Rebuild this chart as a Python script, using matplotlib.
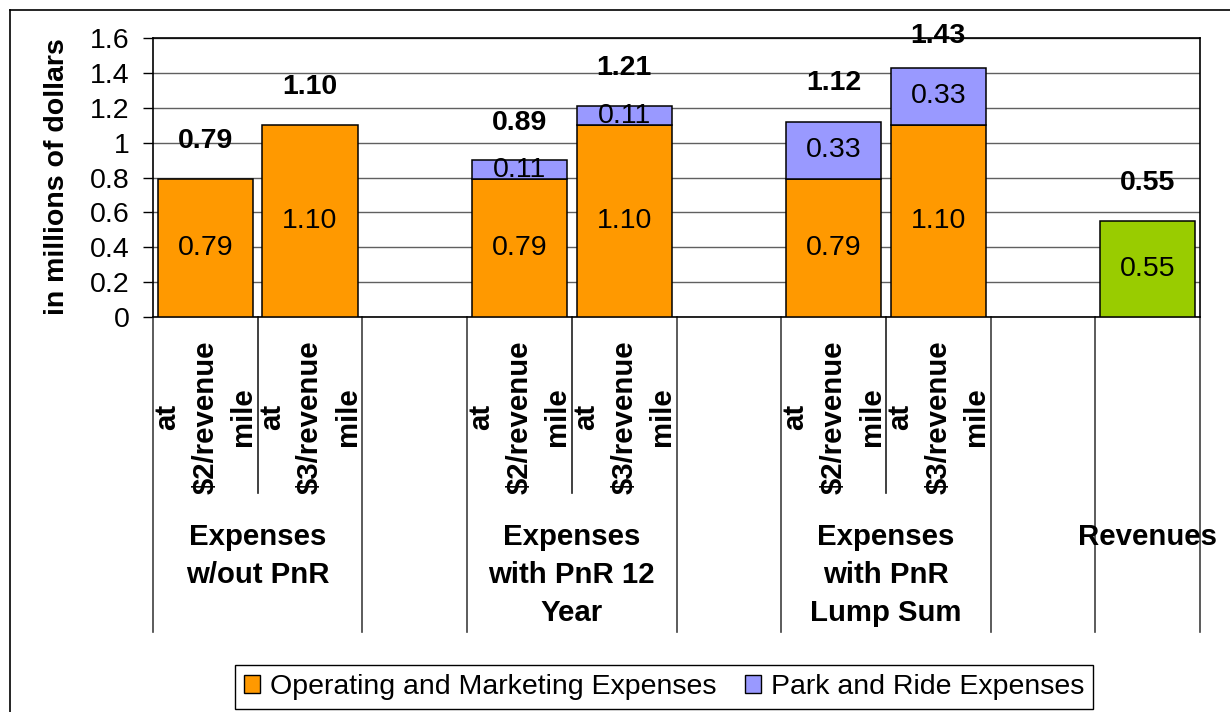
import matplotlib
matplotlib.use('Agg')
import matplotlib.pyplot as plt
from matplotlib.patches import Patch
from matplotlib.lines import Line2D
from matplotlib.transforms import offset_copy

plt.rcParams['font.family'] = ['Liberation Sans', 'DejaVu Sans']

# data
groups = ['Expenses\nw/out PnR', 'Expenses\nwith PnR 12\nYear',
          'Expenses\nwith PnR\nLump Sum', 'Revenues']
sub_labels = ['at\n$2/revenue\nmile', 'at\n$3/revenue\nmile']
operating = [0.79, 1.10, 0.79, 1.10, 0.79, 1.10]
park_ride = [0.0, 0.0, 0.11, 0.11, 0.33, 0.33]
totals = [0.79, 1.10, 0.89, 1.21, 1.12, 1.43]
revenue = 0.55
yticks = [0, 0.2, 0.4, 0.6, 0.8, 1, 1.2, 1.4, 1.6]
ytick_labels = ['0', '0.2', '0.4', '0.6', '0.8', '1', '1.2', '1.4', '1.6']

ORANGE = '#FF9900'
BLUE = '#9999FF'
GREEN = '#99CC00'
FS = 20.5
CAT_FS = 21.2

W, H = 1230, 712
fig = plt.figure(figsize=(W / 100, H / 100), dpi=100)


def px(x, y):
    return x / W, 1 - y / H


ax = fig.add_axes([153 / W, 1 - 317 / H, (1200 - 153) / W, (317 - 38) / H])

# 10 category slots: $2, $3, gap, $2, $3, gap, $2, $3, gap, revenue
exp_slots = [0, 1, 3, 4, 6, 7]
xs = [s + 0.5 for s in exp_slots]
rev_x = 9.5
bw = 0.91

ax.bar(xs, operating, bw, color=ORANGE, edgecolor='black', lw=1.1, zorder=3)
pr_x = [x for x, p in zip(xs, park_ride) if p > 0]
pr_v = [p for p in park_ride if p > 0]
pr_b = [o for o, p in zip(operating, park_ride) if p > 0]
ax.bar(pr_x, pr_v, bw, bottom=pr_b, color=BLUE, edgecolor='black', lw=1.1, zorder=3)
ax.bar([rev_x], [revenue], bw, color=GREEN, edgecolor='black', lw=1.1, zorder=3)

# value labels
for x, o in zip(xs, operating):
    ax.text(x, o / 2, f'{o:.2f}', ha='center', va='center', fontsize=FS, zorder=4)
for x, p, b in zip(pr_x, pr_v, pr_b):
    ax.text(x, b + p / 2, f'{p:.2f}', ha='center', va='center', fontsize=FS, zorder=4)
ax.text(rev_x, revenue / 2, f'{revenue:.2f}', ha='center', va='center', fontsize=FS, zorder=4)

for x, t in zip(xs + [rev_x], totals + [revenue]):
    ax.text(x, min(t + 0.22, 1.61), f'{t:.2f}', ha='center', va='center',
            fontsize=FS, fontweight='bold', clip_on=False)

ax.set_xlim(0, 10)
ax.set_ylim(0, 1.6)
ax.set_xticks([])
ax.set_yticks(yticks)
ax.set_yticklabels(ytick_labels)
ax.tick_params(axis='y', direction='out', length=7, width=1, labelsize=FS, pad=10)
ax.yaxis.grid(True, color='#606060', lw=1)
ax.set_axisbelow(True)
for sp in ax.spines.values():
    sp.set_color('black')
    sp.set_linewidth(1.2)

# multi-level category axis
trans = ax.get_xaxis_transform()
for x in [0, 2, 3, 5, 6, 8, 9, 10]:
    ax.plot([x, x], [0, -1.129], transform=trans, clip_on=False, color='#404040', lw=1.2)
for x in [1, 4, 7]:
    ax.plot([x, x], [0, -0.631], transform=trans, clip_on=False, color='#202020', lw=1.2)

for i, x in enumerate(xs):
    lines = sub_labels[i % 2].split('\n')
    for k, line in enumerate(lines):
        tr = offset_copy(trans, fig=fig, x=(k - 1) * 38, y=0, units='dots')
        ax.text(x, -0.3584, line, transform=tr, rotation=90, ha='center', va='center',
                fontsize=CAT_FS, fontweight='bold', parse_math=False)

for gx, g in zip([1.0, 4.0, 7.0, 9.5], groups):
    for k, line in enumerate(g.split('\n')):
        tr = offset_copy(trans, fig=fig, x=0, y=-38 * k, units='dots')
        ax.text(gx, -0.7885, line, transform=tr, ha='center', va='center',
                fontsize=CAT_FS, fontweight='bold')

fig.text(*px(57, 177), 'in millions of dollars', rotation=90, ha='center', va='center',
         fontsize=FS, fontweight='bold')

# chart area border (top and left visible)
fig.add_artist(Line2D([10 / W, 10 / W], [0, 1 - 10 / H], transform=fig.transFigure,
                      color='black', lw=1.2))
fig.add_artist(Line2D([10 / W, 1], [1 - 10 / H, 1 - 10 / H], transform=fig.transFigure,
                      color='black', lw=1.2))

handles = [Patch(facecolor=ORANGE, edgecolor='black', label='Operating and Marketing Expenses'),
           Patch(facecolor=BLUE, edgecolor='black', label='Park and Ride Expenses')]
leg = fig.legend(handles=handles, loc='center', bbox_to_anchor=px(664, 687), ncol=2,
                 fontsize=FS, frameon=True, fancybox=False, edgecolor='black', framealpha=1,
                 handlelength=0.56, handleheight=0.56, handletextpad=0.35,
                 columnspacing=1.0, borderpad=0.3, borderaxespad=0)
leg.get_frame().set_linewidth(1.0)

fig.savefig('out.png', dpi=100)
